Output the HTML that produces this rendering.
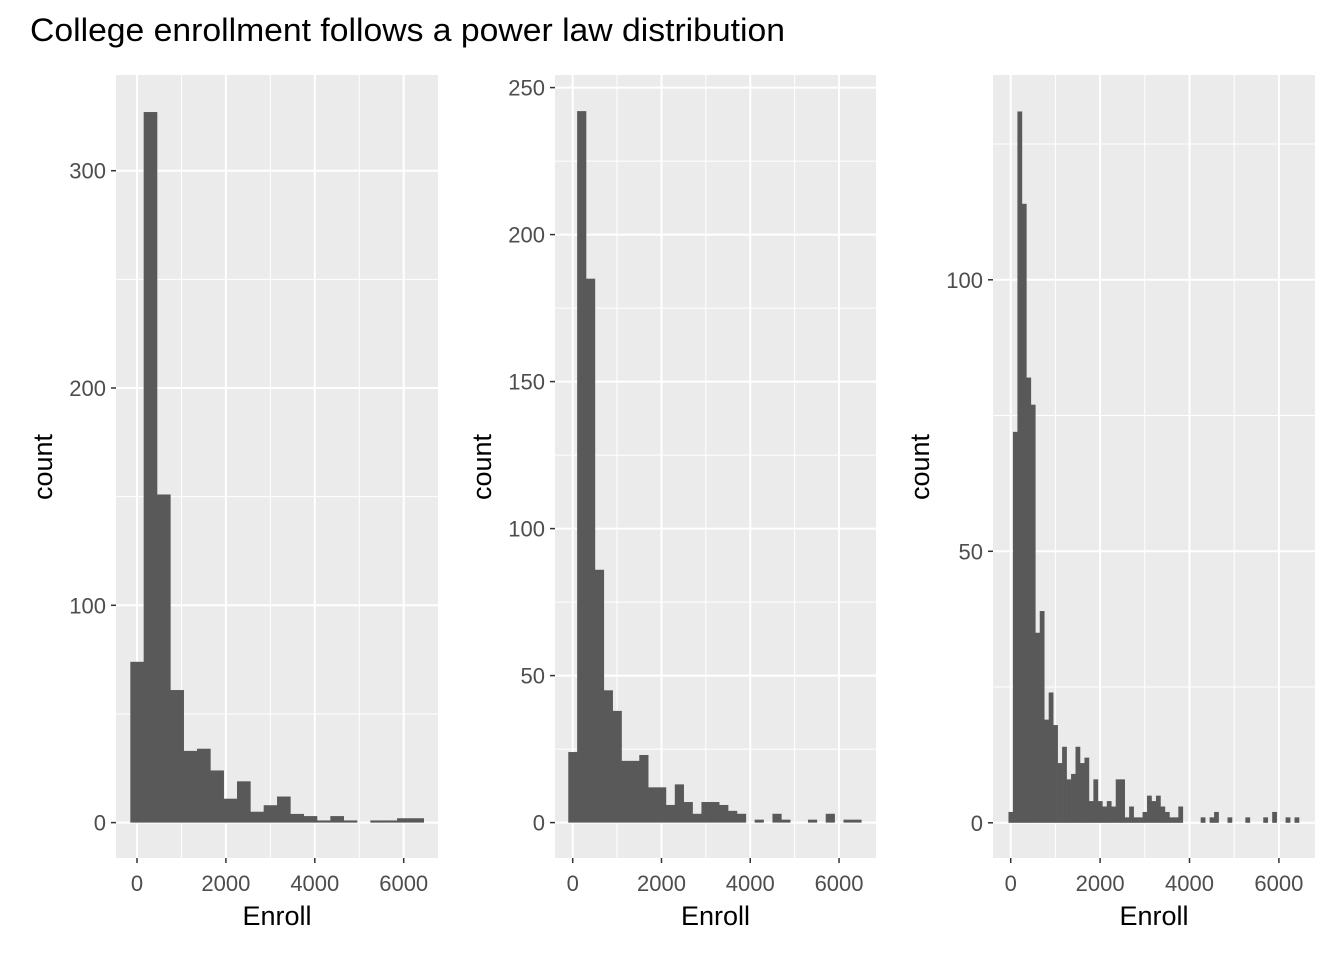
<!DOCTYPE html>
<html><head><meta charset="utf-8"><style>
body{margin:0;background:#fff;width:1344px;height:960px;overflow:hidden}
svg text{font-family:"Liberation Sans",Arial,sans-serif}
</style></head><body>
<svg id="chart" width="1344" height="960" xmlns="http://www.w3.org/2000/svg">
<text x="30" y="41" font-size="32" textLength="755" lengthAdjust="spacingAndGlyphs" fill="#000">College enrollment follows a power law distribution</text>
</svg>
<script>
// Panel 1: 22 bins, width 300, starting -150
const counts1 = [74,327,151,61,33,34,24,11,19,5,8,12,4,3,1,3,1,0,1,1,2,2];
// Panel 2: 33 bins, width 200, starting -100
const counts2 = [24,242,185,86,45,38,21,21,23,12,12,6,13,7,3,7,7,6,4,3,0,1,0,3,1,0,0,1,0,3,0,1,1];
// Panel 3: 65 bins, width 100, starting -50
const counts3 = [2,72,131,114,82,77,35,39,19,24,18,11,14,8,9,14,11,12,4,8,4,3,4,3,8,8,1,3,1,1,2,5,4,5,3,2,1,1,3,0,0,0,0,1,0,1,2,0,0,1,0,0,0,1,0,0,0,1,0,2,0,0,1,0,1];
const binStarts = [-150,-100,-50];
const binWidths = [300,200,100];
const xTicks = [0,2000,4000,6000];
const xMinor = [1000,3000,5000];
const yTicks1 = [0,100,200,300];
const yTicks2 = [0,50,100,150,200,250];
const yTicks3 = [0,50,100];

const NS='http://www.w3.org/2000/svg';
const svg=document.getElementById('chart');
function mk(tag,attrs,parent){const e=document.createElementNS(NS,tag);for(const k in attrs)e.setAttribute(k,attrs[k]);(parent||svg).appendChild(e);return e;}

const panels=[
 {counts:counts1,left:116,right:438,x0:137,xs:0.04445,y0:822.6,ys:2.173,yt:yTicks1,ystep:100},
 {counts:counts2,left:555,right:876,x0:572.7,xs:0.04439,y0:822.6,ys:2.94,yt:yTicks2,ystep:50},
 {counts:counts3,left:993,right:1315,x0:1010.7,xs:0.0447,y0:822.8,ys:5.43,yt:yTicks3,ystep:50}
];
const pTop=75,pBottom=858;
panels.forEach((p,i)=>{
  const g=mk('g',{});
  
  
  const X=v=>p.x0+v*p.xs, Y=v=>p.y0-v*p.ys;
  const bg=mk('rect',{x:p.left,y:pTop,width:p.right-p.left,height:pBottom-pTop,fill:'#EBEBEB'},g);
  
  
  const ymax=(p.y0-pTop)/p.ys;
  for(let v=-p.ystep/2; v<=ymax; v+=p.ystep){
    if(Y(v)<pTop||Y(v)>pBottom) continue;
    const l=mk('line',{x1:p.left,x2:p.right,y1:Y(v),y2:Y(v),stroke:'#fff','stroke-width':1},g);
    
    
  }
  xMinor.forEach(v=>{
    const l=mk('line',{x1:X(v),x2:X(v),y1:pTop,y2:pBottom,stroke:'#fff','stroke-width':1},g);
    
    
  });
  p.yt.forEach(v=>{
    const l=mk('line',{x1:p.left,x2:p.right,y1:Y(v),y2:Y(v),stroke:'#fff','stroke-width':2},g);
    
    
    const t=mk('line',{x1:p.left-5,x2:p.left,y1:Y(v),y2:Y(v),stroke:'#333','stroke-width':1.5},g);
    
    
    const tx=mk('text',{x:p.left-10,y:Y(v)+8,'text-anchor':'end','font-size':'22',fill:'#4D4D4D'},g);
    tx.textContent=v;
    
    
  });
  xTicks.forEach(v=>{
    const l=mk('line',{x1:X(v),x2:X(v),y1:pTop,y2:pBottom,stroke:'#fff','stroke-width':2},g);
    
    
    const t=mk('line',{x1:X(v),x2:X(v),y1:pBottom,y2:pBottom+5,stroke:'#333','stroke-width':1.5},g);
    
    
    const tx=mk('text',{x:X(v),y:pBottom+33,'text-anchor':'middle','font-size':'22',fill:'#4D4D4D'},g);
    tx.textContent=v;
    
    
  });
  p.counts.forEach((c,k)=>{
    if(c<=0) return;
    const a=binStarts[i]+k*binWidths[i], b=a+binWidths[i];
    const r=mk('rect',{x:X(a),y:Y(c),width:X(b)-X(a)+0.3,height:Y(0)-Y(c),fill:'#595959'},g);
    
    
  });
  const xt=mk('text',{x:(p.left+p.right)/2,y:925,'text-anchor':'middle','font-size':'27',fill:'#000'},g);
  xt.textContent='Enroll';
  
  
  const cx=p.left-64, cy=467;
  const yt=mk('text',{x:cx,y:cy,'text-anchor':'middle','font-size':'27',fill:'#000',transform:'rotate(-90 '+cx+' '+cy+')'},g);
  yt.textContent='count';
  
  
});
</script>
</body></html>
